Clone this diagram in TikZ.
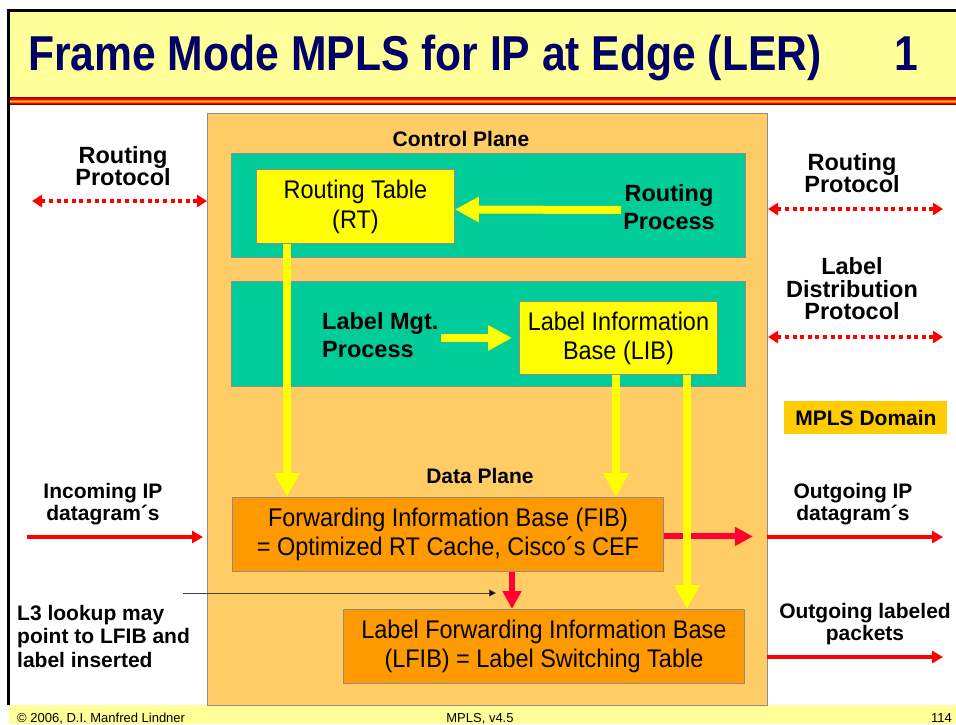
\documentclass[tikz,border=0pt]{standalone}
\usepackage{fontspec}
\setmainfont{Liberation Sans}
\newfontfamily\narrowfont[FakeStretch=0.92]{Liberation Sans}
\newfontfamily\titlefont[FakeStretch=0.87]{Liberation Sans}
\usetikzlibrary{arrows.meta}
\definecolor{titlebg}{HTML}{FFFF99}
\definecolor{navy}{HTML}{000066}
\definecolor{planebg}{HTML}{FFCC66}
\definecolor{greenbg}{HTML}{00CC99}
\definecolor{ycol}{HTML}{FFFF00}
\definecolor{ocol}{HTML}{FF9900}
\definecolor{domcol}{HTML}{FFCC00}
\definecolor{edgecol}{HTML}{8C8C8C}
\definecolor{redA}{HTML}{FF0000}
\definecolor{redB}{HTML}{FF0033}
\definecolor{stripeD}{HTML}{880000}
\definecolor{stripeR}{HTML}{E80000}
\definecolor{stripeO}{HTML}{FF6600}
\definecolor{stripeY}{HTML}{FFCC00}
\begin{document}
\begin{tikzpicture}[x=1pt,y=-1pt,
  shapebox/.style={draw=edgecol, line width=0.9pt, anchor=north west, inner sep=0pt},
  gbox/.style={shapebox, fill=greenbg},
  ybox/.style={shapebox, fill=ycol, font=\narrowfont\fontsize{25.5}{30}\selectfont, align=center},
  obox/.style={shapebox, fill=ocol, font=\narrowfont\fontsize{25.5}{28.5}\selectfont, align=center},
  biglbl/.style={font=\bfseries\fontsize{23.5}{22.5}\selectfont, align=center, inner sep=2pt},
  proclbl/.style={font=\bfseries\fontsize{23.5}{28.5}\selectfont, inner sep=2pt},
  smalllbl/.style={font=\bfseries\fontsize{21}{22.5}\selectfont, align=center, inner sep=2pt},
  foot/.style={font=\fontsize{13}{14}\selectfont, inner sep=0pt, anchor=base west},
  yarr/.style={draw=ycol, line width=8pt, -{Triangle[length=24pt,width=24pt]}},
  rarr/.style={draw=redB, line width=6pt, -{Triangle[length=18pt,width=18pt]}},
  tarr/.style={draw=redA, line width=3.5pt, -{Triangle[length=11pt,width=12pt]}},
  darr/.style={draw=redA, line width=3.5pt, dash pattern=on 4pt off 3.6pt,
    {Triangle[length=10pt,width=12pt]}-{Triangle[length=10pt,width=12pt]}},
  blarr/.style={draw=black!75, line width=0.7pt, -{Triangle[length=7pt,width=7pt,fill=black]}}
]
\useasboundingbox (0,0) rectangle (956,724);
% header and footer
\fill[titlebg] (8,11) rectangle (956,97);
\fill[stripeD] (8,97) rectangle (956,98.2);
\fill[stripeR] (8,98.2) rectangle (956,99.6);
\fill[stripeO] (8,99.6) rectangle (956,100.7);
\fill[stripeY] (8,100.7) rectangle (956,101.8);
\fill[stripeO] (8,101.8) rectangle (956,102.9);
\fill[stripeR] (8,102.9) rectangle (956,104.2);
\fill[stripeD] (8,104.2) rectangle (956,105.2);
\fill[titlebg] (9,705) rectangle (956,724);
\draw[black, line width=2.5pt] (7.2,10.4) -- (956,10.4);
\draw[black, line width=2.5pt] (8.4,9.2) -- (8.4,705);
\node[anchor=base west, inner sep=0pt, text=navy,
  font=\titlefont\bfseries\fontsize{49}{50}\selectfont] (title) at (28,70) {Frame Mode MPLS for IP at Edge (LER)};
\node[anchor=base west, inner sep=0pt, text=navy,
  font=\titlefont\bfseries\fontsize{49}{50}\selectfont] (slideno) at (894,70) {1};

% planes
\node[shapebox, fill=planebg, minimum width=560, minimum height=592] (plane) at (207,113) {};
\node[gbox, minimum width=514, minimum height=104] (ctlbox) at (231,153) {};
\node[gbox, minimum width=514, minimum height=105] (lblbox) at (231,281) {};

% boxes
\node[ybox, minimum width=198, minimum height=74] (rt) at (256,169) {Routing Table\\(RT)};
\node[ybox, minimum width=198, minimum height=73, font=\narrowfont\fontsize{25.5}{29}\selectfont] (lib) at (519,301) {Label Information\\Base (LIB)};
\node[obox, minimum width=431, minimum height=74] (fib) at (232,497) {Forwarding Information Base (FIB)\\= Optimized RT Cache, Cisco´s CEF};
\node[obox, minimum width=401, minimum height=74] (lfib) at (343,609) {Label Forwarding Information Base\\(LFIB) = Label Switching Table};
\node[shapebox, draw=none, fill=domcol, minimum width=163, minimum height=33,
  font=\bfseries\fontsize{21}{22}\selectfont] (dom) at (784,401) {MPLS Domain};

% labels
\node[smalllbl] (cp) at (461,139) {Control Plane};
\node[smalllbl] (dp) at (480,476) {Data Plane};
\node[proclbl, align=center] (rp) at (669,207) {Routing\\Process};
\node[proclbl, align=left, anchor=west] (lm) at (320,335) {Label Mgt.\\Process};
\node[biglbl] (lrp) at (123,166) {Routing\\Protocol};
\node[biglbl] (rrp) at (852,173) {Routing\\Protocol};
\node[biglbl] (ldp) at (852,289) {Label\\Distribution\\Protocol};
\node[smalllbl] (inip) at (103,504) {Incoming IP\\datagram´s};
\node[smalllbl] (outip) at (853,504) {Outgoing IP\\datagram´s};
\node[smalllbl] (outlab) at (865,624) {Outgoing labeled\\packets};
\node[smalllbl, align=left, anchor=west, font=\bfseries\fontsize{21}{23.5}\selectfont] (l3) at (15,636) {L3 lookup may\\point to LFIB and\\label inserted};

% footer
\node[foot] (copy) at (17,722.3) {© 2006, D.I. Manfred Lindner};
\node[foot, anchor=base] (ver) at (480,722.3) {MPLS, v4.5};
\node[foot] (page) at (931,722.3) {114};

% coordinates
\coordinate (lrpA) at (32,201);
\coordinate (lrpB) at (207,201);
\coordinate (rrpA) at (768,209);
\coordinate (rrpB) at (943,209);
\coordinate (ldpA) at (768,337);
\coordinate (ldpB) at (943,337);
\coordinate (inA) at (27,537);
\coordinate (inB) at (203,537);
\coordinate (outA) at (767,537);
\coordinate (outB) at (943,537);
\coordinate (olA) at (767,657);
\coordinate (olB) at (943,657);
\coordinate (l3A) at (183,593);
\coordinate (l3B) at (496,593);
\coordinate (rtout) at ([xshift=31pt]rt.south west);
\coordinate (libout1) at ([xshift=97pt]lib.south west);
\coordinate (libout2) at ([xshift=168pt]lib.south west);
\coordinate (fibdown) at ([xshift=280pt]fib.south west);
\coordinate (fibright) at ([yshift=-2pt]fib.east);
\coordinate (fibrightend) at ([xshift=89pt,yshift=-2pt]fib.east);

% red arrows
\draw[darr] (lrpA) -- (lrpB);
\draw[darr] (rrpA) -- (rrpB);
\draw[darr] (ldpA) -- (ldpB);
\draw[tarr] (inA) -- (inB);
\draw[tarr] (outA) -- (outB);
\draw[tarr] (olA) -- (olB);
\draw[rarr] (fibright) -- (fibrightend);
\draw[rarr] (fibdown) -- (fibdown |- lfib.north);
\draw[blarr] (l3A) -- (l3B);

% yellow arrows
\draw[yarr] ([yshift=-3pt]rp.west) -- ([yshift=-3pt]rt.east);
\draw[yarr] (lm.east |- lib.west) -- ([xshift=-7pt]lib.west);
\draw[yarr] (rtout) -- (rtout |- fib.north);
\draw[yarr] (libout1) -- (libout1 |- fib.north);
\draw[yarr] (libout2) -- (libout2 |- lfib.north);
\end{tikzpicture}
\end{document}
